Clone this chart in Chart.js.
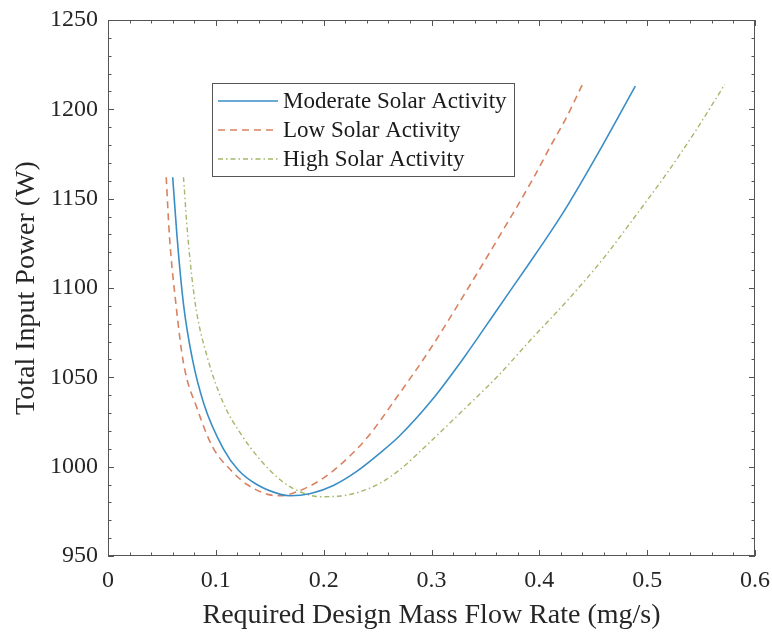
<!DOCTYPE html>
<html>
<head>
<meta charset="utf-8">
<script src="https://cdn.jsdelivr.net/npm/chart.js@4.4.0/dist/chart.umd.min.js"></script>
<style>
    body { margin: 0; background: #fff; }
</style>
</head>
<body>
<canvas id="chart-power" width="772" height="633"></canvas>
<script>
// values (mass flow in mg/s, power in W)
var moderateFlow = [0.060, 0.064, 0.070, 0.078, 0.089, 0.107, 0.121, 0.138, 0.160, 0.169, 0.188, 0.209, 0.231, 0.253, 0.270, 0.300, 0.330, 0.361, 0.392, 0.410, 0.426, 0.456, 0.489];
var moderatePower = [1162, 1129, 1091, 1061, 1035, 1010, 998, 990, 984.5, 983.7, 985, 989.5, 997.5, 1008, 1017, 1037, 1061, 1088, 1115, 1131, 1146, 1177, 1213];

var lowFlow = [0.054, 0.057, 0.063, 0.070, 0.083, 0.097, 0.114, 0.129, 0.148, 0.160, 0.175, 0.197, 0.219, 0.240, 0.268, 0.299, 0.330, 0.362, 0.394, 0.410, 0.426, 0.440];
var lowPower = [1162, 1129, 1091, 1058, 1032, 1011, 998, 990, 984.5, 983.7, 986, 992.5, 1003, 1016, 1039, 1066, 1096, 1128, 1161, 1179, 1196.5, 1214];

var highFlow = [0.070, 0.074, 0.081, 0.092, 0.107, 0.123, 0.141, 0.160, 0.178, 0.197, 0.216, 0.234, 0.253, 0.270, 0.299, 0.330, 0.362, 0.392, 0.426, 0.460, 0.490, 0.518, 0.545, 0.572];
var highPower = [1162, 1129, 1091, 1061.5, 1035.5, 1018.5, 1004, 992.5, 986, 983.2, 983.6, 986, 991, 998, 1014, 1032, 1051, 1071, 1093, 1117, 1141, 1164, 1188, 1214];

var seriesLabels = ["Moderate Solar Activity", "Low Solar Activity", "High Solar Activity"];
var flowTicks = [0, 0.1, 0.2, 0.3, 0.4, 0.5, 0.6];
var powerTicks = [950, 1000, 1050, 1100, 1150, 1200, 1250];

var serif = "'Liberation Serif', 'Times New Roman', serif";

function toPoints(xs, ys) {
    return xs.map(function(x, i) { return {x: x, y: ys[i]}; });
}

// box, inward ticks on all four sides and the boxed legend
var frameAndLegend = {
    id: 'frameAndLegend',
    afterDatasetsDraw: function(chart) {
        var ctx = chart.ctx;
        var area = chart.chartArea;
        var xs = chart.scales.x;
        var ys = chart.scales.y;
        ctx.save();
        ctx.strokeStyle = '#555';
        ctx.lineWidth = 1;
        ctx.beginPath();
        for (var i = 0; i <= 30; i++) {
            var px = Math.round(xs.getPixelForValue(i * 0.02)) + 0.5;
            var len = (i % 5 === 0) ? 6 : 3.5;
            ctx.moveTo(px, area.bottom); ctx.lineTo(px, area.bottom - len);
            ctx.moveTo(px, area.top); ctx.lineTo(px, area.top + len);
        }
        for (var j = 0; j <= 30; j++) {
            var py = Math.round(ys.getPixelForValue(950 + j * 10)) + 0.5;
            var len2 = (j % 5 === 0) ? 6 : 3.5;
            ctx.moveTo(area.left, py); ctx.lineTo(area.left + len2, py);
            ctx.moveTo(area.right, py); ctx.lineTo(area.right - len2, py);
        }
        ctx.stroke();
        ctx.strokeRect(Math.round(area.left) + 0.5, Math.round(area.top) + 0.5,
            Math.round(area.width) - 1, Math.round(area.height) - 1);

        // legend
        var bx = 212.5, by = 83.5, bw = 302, bh = 93;
        ctx.fillStyle = '#fff';
        ctx.fillRect(bx, by, bw, bh);
        ctx.strokeStyle = '#555';
        ctx.strokeRect(bx, by, bw, bh);
        ctx.font = "23px " + serif;
        ctx.textBaseline = 'middle';
        chart.data.datasets.forEach(function(ds, k) {
            var rowY = 101 + k * 29;
            ctx.strokeStyle = ds.borderColor;
            ctx.lineWidth = ds.borderWidth;
            ctx.setLineDash(ds.borderDash || []);
            ctx.beginPath();
            ctx.moveTo(218, rowY);
            ctx.lineTo(278, rowY);
            ctx.stroke();
            ctx.setLineDash([]);
            ctx.fillStyle = '#1a1a1a';
            ctx.fillText(ds.label, 283, rowY + 1);
        });
        ctx.restore();
    }
};

var ctx = document.getElementById("chart-power").getContext("2d");

new Chart(ctx, {
    type: "line",
    data: {
        datasets: [{
            label: seriesLabels[0],
            data: toPoints(moderateFlow, moderatePower),
            borderColor: "#3a8ec6",
            borderWidth: 1.6,
            pointRadius: 0,
            cubicInterpolationMode: 'monotone',
            fill: false
        }, {
            label: seriesLabels[1],
            data: toPoints(lowFlow, lowPower),
            borderColor: "#d98262",
            borderWidth: 1.6,
            borderDash: [7, 5],
            pointRadius: 0,
            cubicInterpolationMode: 'monotone',
            fill: false
        }, {
            label: seriesLabels[2],
            data: toPoints(highFlow, highPower),
            borderColor: "#a3b86a",
            borderWidth: 1.4,
            borderDash: [5, 3, 1.5, 3],
            pointRadius: 0,
            cubicInterpolationMode: 'monotone',
            fill: false
        }]
    },
    options: {
        responsive: false,
        animation: false,
        layout: {
            padding: {left: 0, top: 20, right: 17, bottom: 0}
        },
        plugins: {
            legend: { display: false },
            tooltip: { enabled: false }
        },
        scales: {
            x: {
                type: 'linear',
                min: 0,
                max: 0.6,
                afterBuildTicks: function(scale) {
                    scale.ticks = flowTicks.map(function(v) { return {value: v}; });
                },
                afterFit: function(scale) {
                    scale.height = 77;
                    scale.paddingLeft = 0;
                    scale.paddingRight = 0;
                },
                grid: { display: false, drawTicks: false },
                border: { display: false },
                ticks: {
                    padding: 10,
                    color: '#262626',
                    maxRotation: 0,
                    font: { size: 24, family: serif },
                    callback: function(value) { return String(value); }
                },
                title: {
                    display: true,
                    text: 'Required Design Mass Flow Rate (mg/s)',
                    color: '#262626',
                    padding: {top: 0, bottom: 1},
                    font: { size: 28, family: serif }
                }
            },
            y: {
                min: 950,
                max: 1250,
                afterBuildTicks: function(scale) {
                    scale.ticks = powerTicks.map(function(v) { return {value: v}; });
                },
                afterFit: function(scale) {
                    scale.width = 108;
                    scale.paddingTop = 0;
                    scale.paddingBottom = 0;
                },
                grid: { display: false, drawTicks: false },
                border: { display: false },
                ticks: {
                    padding: 10,
                    color: '#262626',
                    font: { size: 24, family: serif },
                    callback: function(value) { return String(value); }
                },
                title: {
                    display: true,
                    text: 'Total Input Power (W)',
                    color: '#262626',
                    padding: {top: 10, bottom: 0},
                    font: { size: 28, family: serif }
                }
            }
        }
    },
    plugins: [frameAndLegend]
});
</script>
</body>
</html>
